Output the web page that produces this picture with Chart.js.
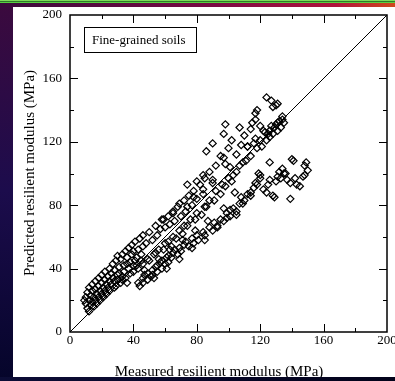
<!DOCTYPE html>
<html><head><meta charset="utf-8">
<script src="https://cdn.jsdelivr.net/npm/chart.js@4"></script>
<style>html,body{margin:0;padding:0;background:#000;overflow:hidden}</style>
</head><body>
<canvas id="c" width="395" height="381" style="display:block;width:395px;height:381px"></canvas>
<script>
// ---- data (MPa) ----
const axisMin = 0, axisMax = 200;
const majorStep = 40;
const tickValues = [20, 40, 60, 80, 100, 120, 140, 160, 180];
const xTitle = 'Measured resilient modulus (MPa)';
const yTitle = 'Predicted resilient modulus (MPa)';
const boxLabel = 'Fine-grained soils';
const lineOfEquality = [0, 200];

const measuredA = [9,10,10,11,11,12,12,12,13,13,14,14,14,15,15,16,16,16,17,17,18,18,18,19,19,20,20,20,21,21,22,22,22,23,23,24,24,25,25,25];
const predictedA = [20,22,18,25,15,28,20,13,23,17,30,26,19,22,16,32,27,20,24,18,34,29,22,26,20,36,31,24,28,22,38,33,26,30,24,35,28,40,32,26];

const measuredB = [26,26,27,27,28,28,28,29,30,29,30,31,30,31,32,32,33,33,34,33,34,35,36,35,36,37,36,37,38,38,39,39,40,40,41,40,41,42,42,43,43,44,45,45,46];
const predictedB = [37,30,43,34,28,39,32,45,36,29,48,41,33,37,31,46,35,49,42,33,38,51,43,34,47,40,31,53,44,37,49,55,42,51,45,38,57,47,42,52,40,59,49,45,54];

const measuredC = [43,44,46,46,47,49,49,51,52,52,54,55,55,57,58,58,60,61,62,62,64,65,66,68,69,70,72,73,75,77,78,80,81,84,85,88,90,91,93,95,97,99,101,103,105,107,110,112,114,116,118,120,
  47,53,56,61,63,69,71,77,79,85,87,
  97,101,105,99,93,109,114,108,104,102];
const predictedC = [31,29,34,31,36,33,37,35,39,36,41,38,42,44,40,45,43,47,44,48,47,50,52,49,53,51,55,57,54,59,56,61,58,63,61,66,64,69,67,71,70,75,73,78,76,81,83,87,86,91,93,97,
  39,34,46,40,52,46,58,53,64,58,70,
  78,77,74,72,66,81,88,85,88,95];

const measuredD = [46,48,50,52,54,55,57,58,60,62,63,65,66,68,70,72,73,75,77,78,80,82,84,85,86,88,90,90,92,95,97,98,98,100,102,105,107,108,110,112,114,115,117,117,118,120,122,124,127,128,130,131,
  59,65,69,74,84,80];
const predictedD = [61,56,63,58,67,61,65,71,66,73,68,76,70,79,73,83,76,86,80,89,84,93,87,97,114,101,119,94,105,111,125,131,106,116,121,112,129,118,124,117,128,132,134,138,140,130,127,148,146,142,143,144,
  71,75,81,93,99,95];

const measuredE = [46,49,50,53,54,56,59,60,62,64,65,67,69,71,72,74,74,76,78,79,80,83,84,85,86,88,90,91,92,95,96,97,98,100,101,103,105,107,109,111,112,114,116,117,118,120,121,123,124,125,126,126,127,128,129,130,131,131,132,133,134,134,135];
const predictedE = [43,46,45,49,50,52,52,56,57,54,60,59,64,62,67,67,79,71,85,71,75,74,90,79,79,83,96,83,89,87,93,110,92,97,104,99,101,105,107,108,117,111,119,122,116,121,117,126,121,125,127,123,130,125,129,131,127,132,133,129,134,136,132];

const measuredF = [117,119,120,122,124,125,126,126,128,129,130,131,132,133,134,135,136,137,139,139,140,141,142,143,145,147,148,148,150,149];
const predictedF = [94,100,99,90,88,93,96,107,86,85,95,98,101,97,103,100,100,96,94,84,109,108,97,93,92,98,105,99,102,107];

const measured = [].concat(measuredA, measuredB, measuredC, measuredD, measuredE, measuredF);
const predicted = [].concat(predictedA, predictedB, predictedC, predictedD, predictedE, predictedF);
const points = measured.map((m, i) => ({x: m, y: predicted[i]}));
const diag = lineOfEquality.map(v => ({x: v, y: v}));

const SERIF = '"Liberation Serif", "Times New Roman", serif';

const frame = {
  id: 'frame',
  beforeDraw(chart) {
    const ctx = chart.ctx, W = chart.width, H = chart.height;
    ctx.save();
    const g = ctx.createLinearGradient(0, 0, 0, H);
    g.addColorStop(0, '#3c0a3e'); g.addColorStop(0.5, '#1c0c4c'); g.addColorStop(1, '#05052a');
    ctx.fillStyle = g; ctx.fillRect(0, 0, W, H);
    const t = ctx.createLinearGradient(0, 0, W, 0);
    t.addColorStop(0, '#3a0a3c'); t.addColorStop(0.55, '#7c0a44'); t.addColorStop(0.85, '#b0143c'); t.addColorStop(1, '#d0481c');
    ctx.fillStyle = t; ctx.fillRect(0, 3, W, 4);
    ctx.fillStyle = '#7fdc5a'; ctx.fillRect(0, 0, W, 1);
    ctx.fillStyle = '#2e7a2a'; ctx.fillRect(0, 1, W, 1);
    ctx.fillStyle = '#56d040'; ctx.fillRect(0, 2, W, 1);
    ctx.fillStyle = '#ffffff'; ctx.fillRect(13, 7, W - 13, 370);
    ctx.restore();
  },
  afterDraw(chart) {
    const ctx = chart.ctx, W = chart.width, H = chart.height;
    const a = chart.chartArea, xs = chart.scales.x, ys = chart.scales.y;
    ctx.save();
    ctx.strokeStyle = '#000'; ctx.lineWidth = 1;
    ctx.beginPath();
    for (const v of tickValues) {
      const len = (v % majorStep === 0) ? 8 : 4;
      const px = Math.round(xs.getPixelForValue(v)) + 0.5;
      ctx.moveTo(px, a.bottom); ctx.lineTo(px, a.bottom - len);
      ctx.moveTo(px, a.top); ctx.lineTo(px, a.top + len);
      const py = Math.round(ys.getPixelForValue(v)) + 0.5;
      ctx.moveTo(a.left, py); ctx.lineTo(a.left + len, py);
      ctx.moveTo(a.right, py); ctx.lineTo(a.right - len, py);
    }
    ctx.stroke();
    ctx.lineWidth = 1.5;
    ctx.strokeRect(a.left, a.top, a.right - a.left, a.bottom - a.top);
    // text box
    ctx.lineWidth = 1;
    ctx.fillStyle = '#fff';
    ctx.fillRect(84.5, 27.5, 112, 25);
    ctx.strokeRect(84.5, 27.5, 112, 25);
    ctx.fillStyle = '#000';
    ctx.font = '13px ' + SERIF;
    ctx.textAlign = 'left'; ctx.textBaseline = 'middle';
    ctx.fillText(boxLabel, 92, 40.5);
    // axis titles
    ctx.font = '15px ' + SERIF;
    ctx.textAlign = 'center'; ctx.textBaseline = 'alphabetic';
    ctx.fillText(xTitle, 219, 376);
    ctx.save();
    ctx.translate(30, 173); ctx.rotate(-Math.PI / 2);
    ctx.textBaseline = 'middle';
    ctx.fillText(yTitle, 0, 0);
    ctx.restore();
    // bottom frame strip
    const b = ctx.createLinearGradient(0, 0, W, 0);
    b.addColorStop(0, '#0c0c36'); b.addColorStop(1, '#02021a');
    ctx.fillStyle = b; ctx.fillRect(0, 377, W, H - 377);
    ctx.restore();
  }
};

new Chart(document.getElementById('c'), {
  type: 'scatter',
  data: {
    datasets: [
      {type: 'line', data: diag, borderColor: '#000', borderWidth: 1, pointRadius: 0, fill: false},
      {data: points, pointStyle: 'rectRot', pointRadius: 3.6, borderColor: '#000',
       backgroundColor: 'rgba(0,0,0,0)', borderWidth: 1.2}
    ]
  },
  options: {
    responsive: false, animation: false, devicePixelRatio: 1,
    layout: {padding: {left: 13, top: 15, right: 8, bottom: 0}},
    plugins: {legend: {display: false}, tooltip: {enabled: false}},
    scales: {
      x: {type: 'linear', min: axisMin, max: axisMax,
          grid: {display: false, drawTicks: false}, border: {display: false},
          ticks: {stepSize: majorStep, padding: 1, color: '#000', maxRotation: 0, autoSkip: false,
                  font: {family: SERIF, size: 13}},
          afterFit(s) { s.height = 49; s.paddingLeft = 0; s.paddingRight = 0; }},
      y: {type: 'linear', min: axisMin, max: axisMax,
          grid: {display: false, drawTicks: false}, border: {display: false},
          ticks: {stepSize: majorStep, padding: 8, color: '#000', autoSkip: false,
                  font: {family: SERIF, size: 13}},
          afterFit(s) { s.width = 57; s.paddingTop = 0; s.paddingBottom = 0; }}
    }
  },
  plugins: [frame]
});
</script>
</body></html>
